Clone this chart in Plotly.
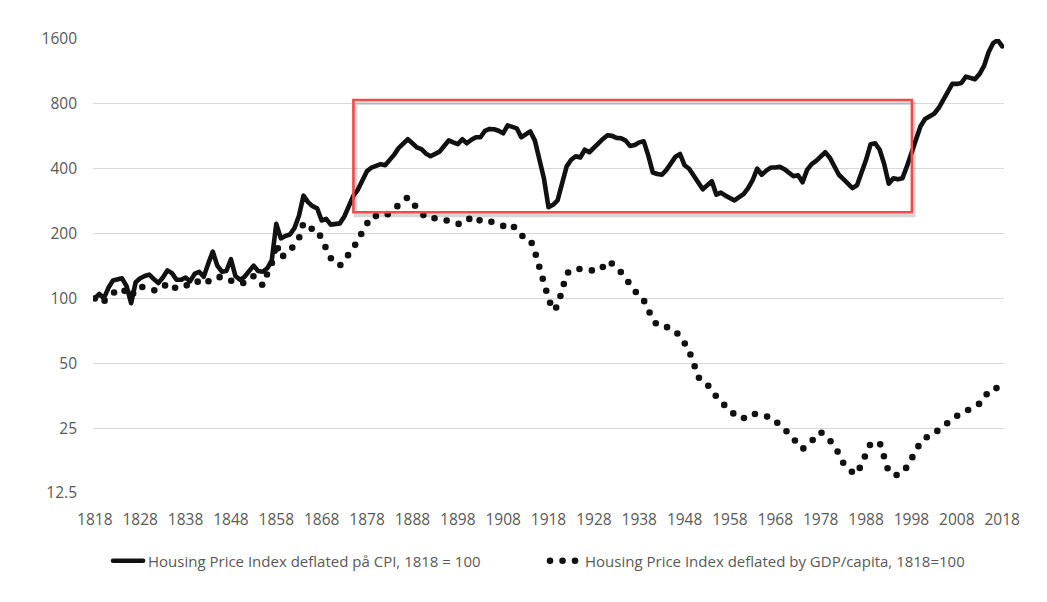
import plotly.graph_objects as go

years = list(range(1818, 2019))

hpi_cpi = [
    100, 105, 100, 112, 121, 122, 124, 114, 95, 119,
    124, 127, 129, 123, 118, 125, 135, 131, 122, 122,
    125, 120, 130, 133, 126, 145, 165, 142, 133, 134,
    152, 127, 122, 126, 133, 142, 134, 133, 138, 150,
    222, 190, 195, 198, 212, 242, 300, 280, 268, 262,
    230, 234, 220, 222, 223, 240, 270, 300, 320, 355,
    390, 405, 410, 420, 415, 438, 465, 500, 525, 548,
    525, 502, 493, 470, 457, 470, 480, 510, 541, 530,
    520, 548, 525, 545, 560, 560, 600, 612, 610, 600,
    584, 636, 625, 616, 560, 580, 596, 540, 440, 360,
    265, 272, 285, 350, 410, 440, 457, 451, 490, 477,
    505, 525, 550, 572, 568, 556, 554, 540, 510, 515,
    530, 536, 460, 384, 378, 375, 395, 425, 455, 468,
    415, 400, 370, 345, 321, 335, 350, 303, 310, 300,
    292, 285, 295, 305, 325, 354, 400, 375, 392, 405,
    405, 408, 398, 385, 369, 373, 346, 395, 420, 435,
    455, 477, 450, 405, 375, 358, 340, 325, 335, 380,
    440, 520, 525, 490, 420, 341, 361, 357, 361, 410,
    470, 541, 630, 680, 700, 720, 765, 830, 900, 990,
    990, 1000, 1070, 1060, 1040, 1100, 1200, 1390, 1530, 1580,
    1480,
]

hpi_gdp = [
    100, 95, 97, 101, 106, 110, 111, 107, 102, 110,
    114, 112, 110, 109, 109, 112, 118, 114, 111, 113,
    114, 118, 121, 119, 116, 120, 125, 125, 126, 124,
    120, 118, 118, 118, 122, 127, 122, 115, 130, 145,
    180, 155, 160, 166, 178, 190, 224, 215, 209, 209,
    190, 170, 154, 147, 142, 150, 160, 172, 185, 205,
    225, 241, 241, 241, 241, 250, 262, 275, 285, 295,
    278, 262, 248, 236, 235, 236, 236, 232, 228, 224,
    222, 221, 228, 238, 240, 228, 226, 228, 225, 220,
    217, 220, 221, 205, 196, 192, 188, 165, 135, 118,
    100, 88, 92, 112, 130, 136, 137, 137, 136, 136,
    135, 134, 140, 149, 145, 140, 132, 123, 115, 107,
    102, 98, 88, 80, 75, 74, 73, 73, 70, 67,
    62, 57, 50, 43, 42, 40, 37, 35, 33, 31.5,
    30, 29, 27.8, 27.8, 28.5, 29.4, 28.8, 28.4, 28.3, 28.2,
    27, 26, 25.2, 23.6, 22.3, 21, 20, 20.8, 21.6, 22.8,
    24, 23, 22, 20.4, 19.1, 17.2, 16.2, 15.6, 15.3, 17,
    19.5, 21.2, 21.3, 21.4, 18.3, 15.6, 15.3, 15.1, 15.6, 16.5,
    18, 19.5, 21.5, 22.5, 23, 23.5, 24.6, 25.5, 26.3, 27.5,
    28.8, 29.5, 30, 30.5, 31.5, 32.5, 34, 37.4, 38.2, 38.5,
    38.6,
]

x_ticks = list(range(1818, 2019, 10))
y_ticks = [12.5, 25, 50, 100, 200, 400, 800, 1600]
y_ticktext = ["12.5", "25", "50", "100", "200", "400", "800", "1600"]

name_cpi = "Housing Price Index deflated på CPI, 1818 = 100"
name_gdp = "Housing Price Index deflated by GDP/capita, 1818=100"

# highlighted period box (data coords)
box_x = [1875.0, 1998.1]
box_y = [251, 834]

fig = go.Figure()
fig.add_trace(go.Scatter(
    x=years, y=hpi_cpi, mode="lines", name=name_cpi,
    line=dict(color="#111111", width=4.6),
))
fig.add_trace(go.Scatter(
    x=years, y=hpi_gdp, mode="lines", name=name_gdp,
    line=dict(color="#111111", width=6.6, dash="0px,12.5px"),
))

# shadow of box
fig.add_shape(type="rect", xref="x", yref="y",
              x0=box_x[0] + 0.45, x1=box_x[1] + 0.45,
              y0=box_y[0] / 1.035, y1=box_y[1] / 1.035,
              line=dict(color="rgba(0,0,0,0.16)", width=3.5),
              fillcolor="rgba(0,0,0,0)", layer="above")
fig.add_shape(type="rect", xref="x", yref="y",
              x0=box_x[0], x1=box_x[1], y0=box_y[0], y1=box_y[1],
              line=dict(color="#F24A4A", width=2.6),
              fillcolor="rgba(0,0,0,0)", layer="above")

font_family = "Open Sans, Lato, sans-serif"

fig.update_layout(
    width=1047, height=602,
    margin=dict(l=85, r=51, t=31, b=117),
    paper_bgcolor="white", plot_bgcolor="white",
    showlegend=True,
    legend=dict(
        orientation="h", x=0.0165, xanchor="left", y=-0.1498, yanchor="middle",
        font=dict(family=font_family, size=15, color="#595959"),
        entrywidth=392, entrywidthmode="pixels",
        bgcolor="rgba(0,0,0,0)",
    ),
    font=dict(family=font_family, color="#595959"),
)
fig.update_xaxes(
    range=[1817.6, 2018.4], tickvals=x_ticks,
    showgrid=False, zeroline=False, showline=False, ticks="",
    tickfont=dict(family=font_family, size=15.5, color="#595959"),
    ticklabelstandoff=15,
)
fig.update_yaxes(
    type="log", range=[1.09691, 3.20412], tickvals=y_ticks, ticktext=y_ticktext,
    showgrid=True, gridcolor="#D9D9D9", gridwidth=1.3,
    zeroline=False, showline=False, ticks="",
    tickfont=dict(family=font_family, size=15.5, color="#595959"),
    ticklabelstandoff=15,
)

post = """
var s = document.createElement('style');
s.textContent = 'path.js-line{stroke-linecap:round;stroke-linejoin:round;}';
document.head.appendChild(s);
"""
fig.write_html("out.html", post_script=post)
